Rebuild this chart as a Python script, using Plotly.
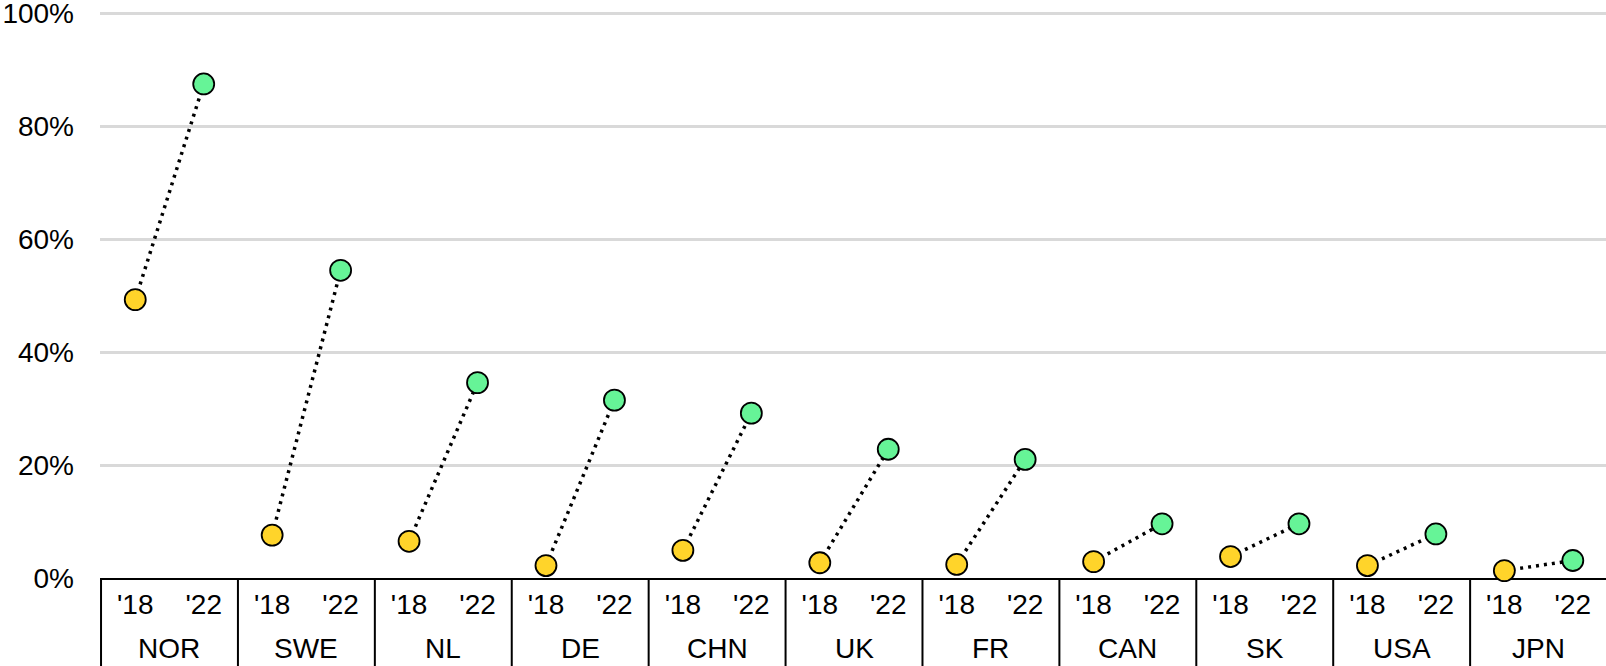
import plotly.graph_objects as go

countries = ["NOR", "SWE", "NL", "DE", "CHN", "UK", "FR", "CAN", "SK", "USA", "JPN"]
years = ["'18", "'22"]
share_2018 = [49.3, 7.6, 6.5, 2.2, 4.9, 2.7, 2.4, 2.9, 3.8, 2.2, 1.3]
share_2022 = [87.5, 54.5, 34.6, 31.5, 29.2, 22.8, 21.0, 9.6, 9.6, 7.8, 3.1]
y_ticks = [0, 20, 40, 60, 80, 100]
y_tick_labels = ["0%", "20%", "40%", "60%", "80%", "100%"]

YELLOW = "#FFD42A"
GREEN = "#66F497"
FONT = "Liberation Sans, Arial, sans-serif"

n = len(countries)
k = len(years)
x18 = [k * i for i in range(n)]
x22 = [k * i + 1 for i in range(n)]

fig = go.Figure()

for i in range(n):
    fig.add_trace(go.Scatter(
        x=[x18[i], x22[i]], y=[share_2018[i], share_2022[i]], mode="lines",
        line=dict(color="black", width=3.5, dash="3px,5px"),
        showlegend=False, hoverinfo="skip", cliponaxis=False,
    ))

fig.add_trace(go.Scatter(
    x=x18, y=share_2018, mode="markers", text=countries,
    marker=dict(size=21, color=YELLOW, line=dict(color="black", width=1.8)),
    showlegend=False, cliponaxis=False, name="2018",
))
fig.add_trace(go.Scatter(
    x=x22, y=share_2022, mode="markers", text=countries,
    marker=dict(size=21, color=GREEN, line=dict(color="black", width=1.8)),
    showlegend=False, cliponaxis=False, name="2022",
))

# group dividers and country labels (second level of the category axis)
for i, c in enumerate(countries):
    fig.add_shape(type="line", xref="x", yref="paper",
                  x0=k * i - 0.5, x1=k * i - 0.5, y0=0, y1=-1,
                  line=dict(color="black", width=2))
    fig.add_annotation(x=k * i + (k - 1) / 2, xref="x", y=0, yref="paper",
                       yshift=-70, yanchor="middle", showarrow=False,
                       text=c, font=dict(family=FONT, size=28, color="black"))

fig.update_layout(
    template="none",
    width=1606, height=666,
    margin=dict(l=100, r=0, t=10, b=88),
    paper_bgcolor="white", plot_bgcolor="white",
    font=dict(family=FONT, size=28, color="black"),
)
fig.update_xaxes(
    automargin=False,
    range=[-0.515, k * n - 0.515],
    tickvals=x18 + x22, ticktext=[years[0]] * n + [years[1]] * n,
    showline=True, linecolor="black", linewidth=2,
    showgrid=False, ticks="", layer="below traces", zeroline=False,
    tickfont=dict(family=FONT, size=28, color="black"),
)
fig.update_yaxes(
    automargin=False,
    range=[0, 100.6], tickvals=y_ticks, ticktext=y_tick_labels,
    showgrid=True, gridcolor="#D9D9D9", gridwidth=2.5,
    zeroline=False, showline=False, ticks="",
    ticklabelstandoff=25, ticklabeloverflow="allow",
    tickfont=dict(family=FONT, size=28, color="black"),
)

fig.write_html("out.html", config={"displayModeBar": False},
               post_script="document.body.style.margin='0px';")
